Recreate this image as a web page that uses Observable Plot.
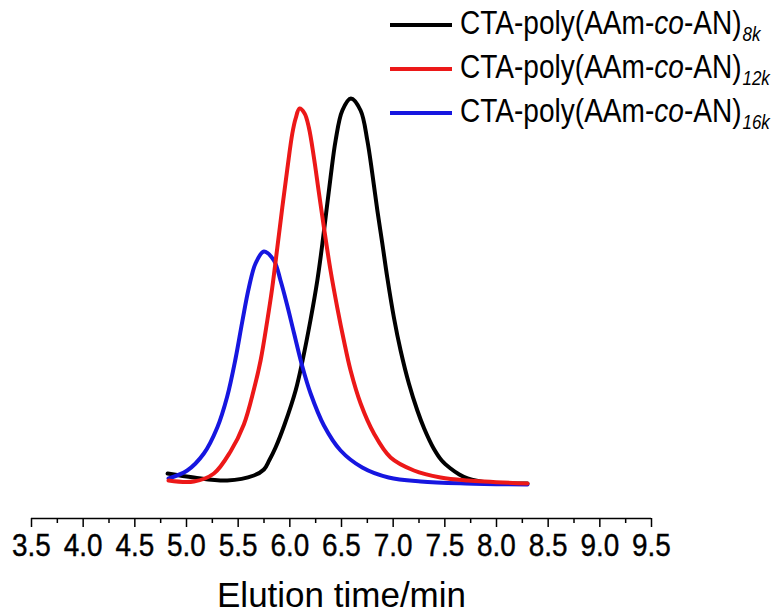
<!DOCTYPE html>
<html>
<head>
<meta charset="utf-8">
<script src="https://cdn.jsdelivr.net/npm/d3@7"></script>
<script src="https://cdn.jsdelivr.net/npm/@observablehq/plot@0.6"></script>
<style>
  html, body { margin: 0; padding: 0; background: #fff; }
  #wrap { position: relative; width: 780px; height: 613px; font-family: "Liberation Sans", Arial, sans-serif; }
  #legend { position: absolute; left: 390px; top: 0; }
  .row { position: absolute; left: 0; display: flex; align-items: center; height: 44px; white-space: nowrap; }
  .swatch { display: inline-block; width: 62px; height: 4px; margin-right: 8px; }
  .lab { display: inline-block; font-size: 33px; transform: scale(0.85, 1); transform-origin: left center; color: #000; }
  .lab .sub { font-style: italic; font-size: 20px; vertical-align: -7px; margin-left: 1px; }
</style>
</head>
<body>
<div id="wrap"></div>
<script>
// ---- data (elution time in min, detector signal in arbitrary units) ----
const seriesNames = ["CTA-poly(AAm-co-AN)8k", "CTA-poly(AAm-co-AN)12k", "CTA-poly(AAm-co-AN)16k"];
const seriesSubs = ["8k", "12k", "16k"];
const seriesColors = ["#000000", "#ec1818", "#1616e0"];

const time8k = [4.817, 5.071, 5.394, 5.652, 5.749, 5.800, 5.862, 5.949, 6.056, 6.123, 6.201, 6.266, 6.314, 6.352, 6.394, 6.443, 6.508, 6.591, 6.685, 6.750, 6.798, 6.847, 6.895, 6.943, 7.007, 7.072, 7.152, 7.234, 7.300, 7.392, 7.470, 7.556, 7.640, 7.721, 7.914, 8.30];
const signal8k = [11, 7, 4, 9, 15, 24, 37, 60, 94, 124, 165, 204, 240, 272, 307, 344, 374, 386, 374, 344, 311, 274, 241, 207, 167, 134, 101, 74, 56, 36, 24, 16, 10, 6, 2, 1];

const time12k = [4.826, 5.071, 5.265, 5.426, 5.555, 5.652, 5.717, 5.782, 5.830, 5.879, 5.927, 5.975, 6.024, 6.056, 6.094, 6.143, 6.184, 6.233, 6.281, 6.330, 6.394, 6.459, 6.523, 6.588, 6.685, 6.814, 6.975, 7.201, 7.459, 7.721, 8.30];
const signal12k = [4, 3, 11, 33, 60, 95, 124, 164, 197, 237, 277, 315, 351, 366, 376, 371, 357, 327, 292, 257, 214, 177, 144, 114, 81, 51, 27, 14, 7, 4, 1];

const time16k = [4.826, 5.007, 5.168, 5.298, 5.394, 5.475, 5.540, 5.604, 5.668, 5.749, 5.846, 5.910, 5.975, 6.039, 6.121, 6.201, 6.330, 6.491, 6.701, 6.956, 7.266, 7.700, 8.30];
const signal16k = [6, 14, 31, 57, 88, 126, 163, 197, 221, 233, 224, 204, 179, 152, 118, 91, 59, 34, 17, 7, 3, 1, 0];

const majorTicks = [3.5, 4.0, 4.5, 5.0, 5.5, 6.0, 6.5, 7.0, 7.5, 8.0, 8.5, 9.0, 9.5];
const minorTicks = [3.75, 4.25, 4.75, 5.25, 5.75, 6.25, 6.75, 7.25, 7.75, 8.25, 8.75, 9.25];
const xTitle = "Elution time/min";
const yDomain = [-34, 464];

// ---- build table ----
const toRows = (name, ts, vs) => ts.map((t, i) => ({series: name, time: t, signal: vs[i]}));
const rows8k = toRows(seriesNames[0], time8k, signal8k);
const rows12k = toRows(seriesNames[1], time12k, signal12k);
const rows16k = toRows(seriesNames[2], time16k, signal16k);

const font = "'Liberation Sans', Arial, sans-serif";

const chart = Plot.plot({
  width: 780,
  height: 613,
  marginLeft: 31,
  marginRight: 129,
  marginTop: 20,
  marginBottom: 95,
  style: {fontFamily: font, background: "#fff", color: "#000"},
  x: {domain: [majorTicks[0], majorTicks[majorTicks.length - 1]]},
  y: {domain: yDomain, axis: null},
  marks: [
    Plot.ruleY([yDomain[0]], {x1: majorTicks[0], x2: majorTicks[majorTicks.length - 1], stroke: "#000", strokeWidth: 1.5}),
    Plot.axisX(minorTicks, {tickSize: 5, tickFormat: () => "", label: null, strokeWidth: 1.5}),
    Plot.axisX(majorTicks, {tickSize: 9, tickPadding: 6, fontSize: 31, tickFormat: d => d.toFixed(1), label: null, strokeWidth: 1.5}),
    Plot.line(rows8k, {x: "time", y: "signal", stroke: seriesColors[0], strokeWidth: 4, curve: "catmull-rom"}),
    Plot.line(rows16k, {x: "time", y: "signal", stroke: seriesColors[2], strokeWidth: 4, curve: "catmull-rom"}),
    Plot.line(rows12k, {x: "time", y: "signal", stroke: seriesColors[1], strokeWidth: 4, curve: "catmull-rom"}),
    Plot.text([xTitle], {frameAnchor: "bottom", dy: 77, fontSize: 35, textAnchor: "middle", lineAnchor: "middle", fill: "#000"})
  ]
});

// reshape axis text horizontally and give it a little more weight
function squeeze(selector, s, w) {
  chart.querySelectorAll(selector).forEach(el => {
    const t = el.getAttribute("transform") || "";
    const x = +el.getAttribute("x") || 0;
    const y = +el.getAttribute("y") || 0;
    el.setAttribute("transform", `${t} translate(${x},${y}) scale(${s},1) translate(${-x},${-y})`);
    if (w > 0) {
      el.setAttribute("stroke", "#000");
      el.setAttribute("stroke-width", w);
    }
    el.setAttribute("fill", "#000");
  });
}
squeeze('g[aria-label="x-axis tick label"] text', 0.9, 0.4);
squeeze('g[aria-label="text"] text', 1.0, 0);

const wrap = document.getElementById("wrap");
wrap.appendChild(chart);

// legend (HTML overlay)
const legend = document.createElement("div");
legend.id = "legend";
const rowTops = [3, 47, 91];
seriesNames.forEach((name, i) => {
  const row = document.createElement("div");
  row.className = "row";
  row.style.top = rowTops[i] + "px";
  const sw = document.createElement("span");
  sw.className = "swatch";
  sw.style.background = seriesColors[i];
  const lab = document.createElement("span");
  lab.className = "lab";
  lab.innerHTML = 'CTA-poly(AAm-<i>co</i>-AN)<span class="sub">' + seriesSubs[i] + '</span>';
  row.appendChild(sw);
  row.appendChild(lab);
  legend.appendChild(row);
});
wrap.appendChild(legend);
</script>
</body>
</html>
